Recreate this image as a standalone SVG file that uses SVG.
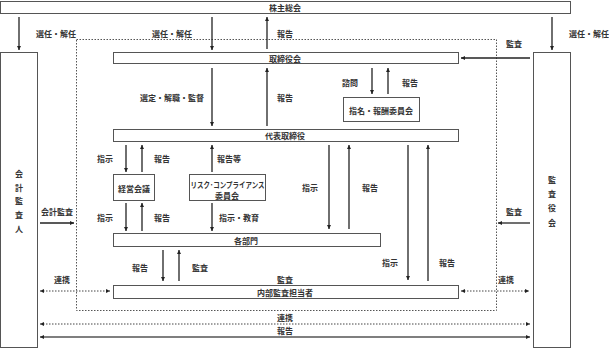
<svg xmlns="http://www.w3.org/2000/svg" width="609" height="349" viewBox="0 0 609 349">
<defs>
<marker id="ah" viewBox="0 0 6 6" refX="6" refY="3" markerWidth="4" markerHeight="4" orient="auto-start-reverse" markerUnits="userSpaceOnUse"><path d="M0,0 L6,3 L0,6 z" fill="#222"/></marker>
<style>
text{font-family:"Noto Sans CJK JP","Liberation Sans",sans-serif;font-size:8px;font-weight:bold;fill:#333;text-anchor:middle;dominant-baseline:central}
.box{fill:#fff;stroke:#555;stroke-width:1}
.a{stroke:#222;stroke-width:1.3;fill:none;marker-end:url(#ah)}
.d{stroke:#444;stroke-width:1;stroke-dasharray:1.5,1.5;fill:none;marker-start:url(#ah);marker-end:url(#ah)}
.s{stroke:#555;stroke-width:1.3;fill:none;marker-start:url(#ah);marker-end:url(#ah)}
</style>
</defs>
<rect x="0" y="0" width="609" height="349" fill="#fff"/>
<rect x="76.5" y="39.5" width="420" height="271" fill="none" stroke="#555" stroke-width="1" stroke-dasharray="1.5,1.5"/>
<g id="shareholders"><rect class="box" x="0.5" y="1.5" width="570" height="12"/><text x="285" y="7.5">株主総会</text></g>
<g id="auditor"><rect class="box" x="0.5" y="52.5" width="37" height="295"/>
<text x="19" y="173">会</text><text x="19" y="187">計</text><text x="19" y="200">監</text><text x="19" y="214">査</text><text x="19" y="228">人</text></g>
<g id="kansayaku"><rect class="box" x="533.5" y="52.5" width="37" height="295"/>
<text x="552" y="179">監</text><text x="552" y="193">査</text><text x="552" y="207">役</text><text x="552" y="222">会</text></g>
<g id="board"><rect class="box" x="113.5" y="52.5" width="345" height="11"/><text x="285" y="58">取締役会</text></g>
<g id="nomination"><rect class="box" x="343.5" y="97.5" width="76" height="24"/><text x="381" y="110">指名・報酬委員会</text></g>
<g id="ceo"><rect class="box" x="113.5" y="129.5" width="345" height="12"/><text x="285" y="135.5">代表取締役</text></g>
<g id="mgmt"><rect class="box" x="113.5" y="174.5" width="41" height="26"/><text x="134" y="188">経営会議</text></g>
<g id="risk"><rect class="box" x="189.5" y="174.5" width="76" height="26"/><text x="227.5" y="184" textLength="74" lengthAdjust="spacingAndGlyphs">リスク･コンプライアンス</text><text x="227" y="195">委員会</text></g>
<g id="depts"><rect class="box" x="113.5" y="233.5" width="267" height="13"/><text x="246" y="240">各部門</text></g>
<g id="internal"><rect class="box" x="113.5" y="285.5" width="345" height="13"/><text x="285" y="292">内部監査担当者</text></g>
<g id="connectors">
<line class="a" x1="19" y1="17" x2="19" y2="50"/>
<line class="a" x1="212" y1="17" x2="212" y2="50"/>
<line class="a" x1="267" y1="49" x2="267" y2="17"/>
<line class="a" x1="552" y1="17" x2="552" y2="50"/>
<line class="a" x1="530" y1="58" x2="461" y2="58"/>
<line class="a" x1="212" y1="68" x2="212" y2="126"/>
<line class="a" x1="267" y1="126" x2="267" y2="68"/>
<line class="a" x1="372" y1="68" x2="372" y2="94"/>
<line class="a" x1="388" y1="94" x2="388" y2="68"/>
<line class="a" x1="126" y1="145" x2="126" y2="172"/>
<line class="a" x1="142" y1="172" x2="142" y2="145"/>
<line class="a" x1="212" y1="172" x2="212" y2="145"/>
<line class="a" x1="126" y1="203" x2="126" y2="231"/>
<line class="a" x1="142" y1="231" x2="142" y2="203"/>
<line class="a" x1="212" y1="203" x2="212" y2="231"/>
<line class="a" x1="329" y1="145" x2="329" y2="229"/>
<line class="a" x1="349" y1="229" x2="349" y2="145"/>
<line class="a" x1="408" y1="145" x2="408" y2="280"/>
<line class="a" x1="428" y1="281" x2="428" y2="145"/>
<line class="a" x1="163" y1="250" x2="163" y2="281"/>
<line class="a" x1="179" y1="281" x2="179" y2="250"/>
<line class="a" x1="40" y1="223" x2="74" y2="223"/>
<line class="a" x1="530" y1="223" x2="498" y2="223"/>
<line class="d" x1="40" y1="291" x2="110" y2="291"/>
<line class="d" x1="461" y1="291" x2="529" y2="291"/>
<line class="d" x1="40" y1="324" x2="530" y2="324"/>
<line class="s" x1="40" y1="337" x2="530" y2="337"/>
<text x="56" y="33">選任・解任</text>
<text x="172" y="33">選任・解任</text>
<text x="285" y="33">報告</text>
<text x="589" y="33">選任・解任</text>
<text x="514" y="43">監査</text>
<text x="172" y="97">選定・解職・監督</text>
<text x="285" y="97">報告</text>
<text x="350" y="82">諮問</text>
<text x="410" y="82">報告</text>
<text x="105" y="158">指示</text>
<text x="162" y="158">報告</text>
<text x="229" y="158">報告等</text>
<text x="105" y="217">指示</text>
<text x="162" y="217">報告</text>
<text x="239" y="217">指示・教育</text>
<text x="310" y="187">指示</text>
<text x="370" y="187">報告</text>
<text x="390" y="262">指示</text>
<text x="447" y="262">報告</text>
<text x="140" y="267">報告</text>
<text x="200" y="267">監査</text>
<text x="285" y="279">監査</text>
<text x="62" y="279">連携</text>
<text x="506" y="279">連携</text>
<text x="57" y="211">会計監査</text>
<text x="514" y="211">監査</text>
<text x="285" y="317">連携</text>
<text x="285" y="330">報告</text>
</g>
</svg>
